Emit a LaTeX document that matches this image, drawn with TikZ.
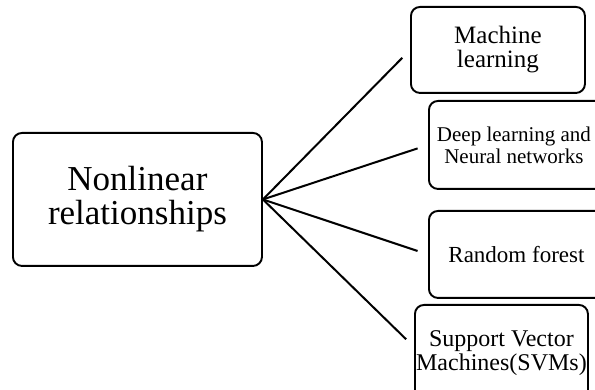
\documentclass[tikz,border=0pt]{standalone}
\usepackage{fontspec}
\setmainfont{Liberation Serif}
\begin{document}
\begin{tikzpicture}[x=1pt,y=-1pt,
  box/.style={draw=black,line width=1.9pt,rounded corners=9pt,inner sep=0pt,align=center,anchor=north west},
  link/.style={line width=2pt,shorten >=11pt}]
\useasboundingbox (0,0) rectangle (595,390);
\clip (0,0) rectangle (595,390);
\node[box,minimum width=249pt,minimum height=133pt,font=\fontsize{35}{34}\selectfont] (main) at (12,132) {Nonlinear\\relationships};
\node[box,minimum width=174pt,minimum height=86pt,font=\fontsize{25}{24}\selectfont] (ml) at (410,6) {Machine\\learning};
\node[box,minimum width=176pt,minimum height=88pt,font=\fontsize{21}{22}\selectfont] (dl) at (428,100) {\hspace*{-6pt}Deep learning and\\\hspace*{-6pt}Neural networks};
\node[box,minimum width=175pt,minimum height=87pt,font=\fontsize{23}{24}\selectfont] (rf) at (428,210) {Random forest};
\node[box,minimum width=173pt,minimum height=96pt,font=\fontsize{24}{24}\selectfont] (svm) at (414,304) {Support Vector\\Machines(SVMs)};
\draw[link] (main.east) -- (ml.west);
\draw[link] (main.east) -- (dl.west);
\draw[link] (main.east) -- (rf.west);
\draw[link] (main.east) -- ([yshift=6pt]svm.west);
\end{tikzpicture}
\end{document}
